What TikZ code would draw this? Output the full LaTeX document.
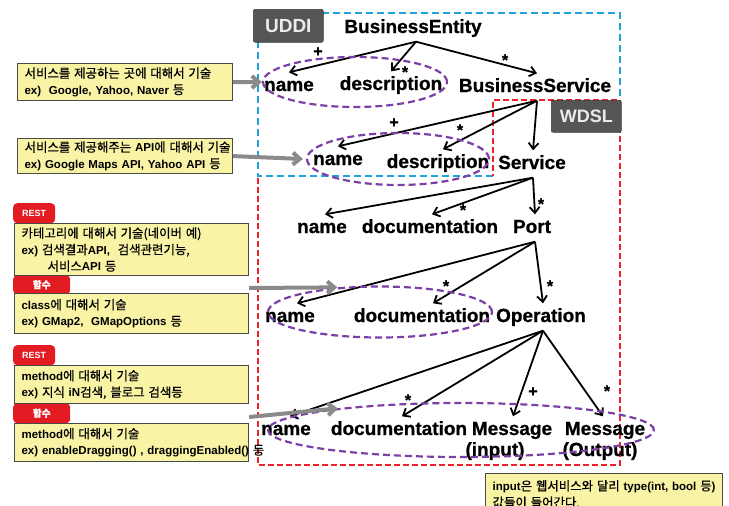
\documentclass[tikz,border=0pt]{standalone}
\usepackage{fontspec}
\setmainfont{Liberation Sans}
\newfontfamily\krfont[Scale=1.08,FakeBold=0.6]{Noto Sans CJK KR}
\newfontfamily\heavy[FakeBold=0.8]{Liberation Sans Bold}
\usetikzlibrary{arrows.meta,shapes.geometric}
\newcommand\K[1]{{\krfont\mdseries #1}}
\definecolor{uddiblue}{HTML}{1FA3DC}
\definecolor{wdslred}{HTML}{F0202A}
\definecolor{ellpurple}{HTML}{7B3FA6}
\definecolor{noteyellow}{HTML}{F9F3A6}
\definecolor{tagred}{HTML}{E31B23}
\definecolor{labgray}{HTML}{555555}
\definecolor{arrgray}{HTML}{8A8A8A}
\definecolor{noteborder}{HTML}{4A4A4A}
\tikzset{
  item/.style={font=\fontsize{19}{22}\selectfont\heavy, text height=14pt, text depth=4pt, inner xsep=1pt, inner ysep=4.5pt},
  mult/.style={font=\fontsize{16}{18}\selectfont\heavy, inner sep=0pt},
  arr/.style={-{Straight Barb[length=6pt,width=10pt]}, line width=1.8pt, black},
  garr/.style={-{Straight Barb[length=7pt,width=12pt]}, line width=4pt, arrgray},
  ell/.style={ellipse, draw=ellpurple, line width=2.2pt, dash pattern=on 7pt off 4pt, inner sep=0pt},
  uddiframe/.style={draw=uddiblue, line width=2.5pt, dash pattern=on 7pt off 4pt},
  wdslframe/.style={draw=wdslred, line width=2.8pt, dash pattern=on 6pt off 3pt},
  notebox/.style={draw=noteborder, fill=noteyellow, line width=1.2pt, anchor=north west, inner xsep=7pt, inner ysep=0pt, align=left, font=\fontsize{11.5}{16.5}\selectfont\bfseries},
  tagbox/.style={fill=tagred, rounded corners=4pt, text=white, font=\fontsize{9}{10}\selectfont\bfseries, anchor=north west, inner sep=0pt},
  labbox/.style={fill=labgray, draw=labgray!70!black, line width=0.6pt, rounded corners=2pt, text=white!92!black, anchor=north west, inner sep=0pt}
}
\begin{document}
\begin{tikzpicture}[x=1pt,y=-1pt]
\useasboundingbox (0,0) rectangle (729,506);
\clip (0,0) rectangle (729,506);

% frames
\draw[uddiframe] (493,176) -- (258,176) -- (258,13) -- (620,13) -- (620,100);
\draw[wdslframe] (258,178) -- (258,465) -- (620,465) -- (620,100) -- (493,100) -- (493,176);

% frame labels
\node[labbox, minimum width=70pt, minimum height=33pt, font=\fontsize{19}{20}\selectfont\bfseries] (uddi) at (253,9) {UDDI};
\node[labbox, minimum width=70pt, minimum height=32pt, font=\fontsize{18}{20}\selectfont\bfseries] (wdsl) at (551,100) {WDSL};

% items
\node[item] (be) at (413,28) {BusinessEntity};
\node[item] (n1) at (289,86) {name};
\node[item] (d1) at (391,85) {description};
\node[item] (bs) at (535,87) {BusinessService};
\node[item] (n2) at (338,160) {name};
\node[item] (d2) at (438,163) {description};
\node[item] (sv) at (532,164) {Service};
\node[item] (n3) at (322,228) {name};
\node[item] (d3) at (430,228) {documentation};
\node[item] (pt) at (532,228) {Port};
\node[item] (n4) at (290,317) {name};
\node[item] (d4) at (422,317) {documentation};
\node[item] (op) at (541,317) {Operation};
\node[item] (n5) at (286,430) {name};
\node[item] (d5) at (399,430) {documentation};
\node[item] (mi) at (512,430) {Message};
\node[item] (mo) at (605,430) {Message};
\node[item] (mi2) at (495,451) {(input)};
\node[item] (mo2) at (600,451) {(Output)};

% arrows
\draw[arr] ([xshift=3pt]be.south) -- (n1.north);
\draw[arr] ([xshift=3pt]be.south) -- (d1.north);
\draw[arr] ([xshift=3pt]be.south) -- ([xshift=2pt]bs.north);
\draw[arr] ([xshift=2pt]bs.south) -- (n2.north);
\draw[arr] ([xshift=2pt]bs.south) -- ([xshift=5pt]d2.north);
\draw[arr] ([xshift=2pt]bs.south) -- ([xshift=1pt]sv.north);
\draw[arr] ([xshift=1pt]sv.south) -- ([xshift=3pt]n3.north);
\draw[arr] ([xshift=1pt]sv.south) -- ([xshift=2pt]d3.north);
\draw[arr] ([xshift=1pt]sv.south) -- ([xshift=3pt]pt.north);
\draw[arr] ([xshift=3pt]pt.south) -- ([xshift=7pt]n4.north);
\draw[arr] ([xshift=3pt]pt.south) -- ([xshift=11pt]d4.north);
\draw[arr] ([xshift=3pt]pt.south) -- ([xshift=2pt]op.north);
\draw[arr] ([xshift=2pt]op.south) -- ([xshift=4pt]n5.north);
\draw[arr] ([xshift=2pt]op.south) -- ([xshift=3pt]d5.north);
\draw[arr] ([xshift=2pt]op.south) -- ([xshift=1pt]mi.north);
\draw[arr] ([xshift=2pt]op.south) -- ([xshift=-2pt]mo.north);

% multiplicities
\node[mult] (m1) at (318,52) {+};
\node[mult] (m2) at (405,72) {*};
\node[mult] (m3) at (505,60) {*};
\node[mult] (m4) at (394,123) {+};
\node[mult] (m5) at (460,130) {*};
\node[mult] (m6) at (463,210) {*};
\node[mult] (m7) at (541,204) {*};
\node[mult] (m8) at (446,286) {*};
\node[mult] (m9) at (550,286) {*};
\node[mult] (m10) at (408,400) {*};
\node[mult] (m11) at (533,392) {+};
\node[mult] (m12) at (607,391) {*};

% ellipses
\node[ell, minimum width=184pt, minimum height=50pt] (e1) at (355,82) {};
\node[ell, minimum width=182pt, minimum height=52pt] (e2) at (398,159) {};
\node[ell, minimum width=224pt, minimum height=51pt] (e3) at (380,312) {};
\node[ell, minimum width=386pt, minimum height=54pt] (e4) at (461,430) {};

% tags
\node[tagbox, minimum width=42pt, minimum height=20pt] (t1) at (13,203) {REST};
\node[tagbox, minimum width=57pt, minimum height=19pt] (t2) at (13,275) {\krfont 함수};
\node[tagbox, minimum width=42pt, minimum height=20pt] (t3) at (13,345) {REST};
\node[tagbox, minimum width=57pt, minimum height=20pt] (t4) at (13,403) {\krfont 함수};

% note boxes
\node[notebox, minimum width=215pt, minimum height=37pt, text width=201pt] (b1) at (17,63)
  {\mbox{\K{서비스를 제공하는 곳에 대해서 기술}}\\ \mbox{ex)\ \ Google, Yahoo, Naver \K{등}}};
\node[notebox, minimum width=215pt, minimum height=35pt, text width=201pt] (b2) at (17,138)
  {\mbox{\K{서비스를 제공해주는 }API\K{에 대해서 기술}}\\ \mbox{ex) Google Maps API, Yahoo API \K{등}}};
\node[notebox, minimum width=234pt, minimum height=52pt, text width=220pt] (b3) at (14,223)
  {\mbox{\K{카테고리에 대해서 기술(네이버 예)}}\\ \mbox{ex) \K{검색결과}API,\ \ \K{검색관련기능,}}\\ \hspace*{26pt}\mbox{\K{서비스}API \K{등}}};
\node[notebox, minimum width=234pt, minimum height=40pt, text width=220pt] (b4) at (14,293)
  {\mbox{class\K{에 대해서 기술}}\\ \mbox{ex) GMap2,\ \ GMapOptions \K{등}}};
\node[notebox, minimum width=234pt, minimum height=38pt, text width=220pt] (b5) at (14,365)
  {\mbox{method\K{에 대해서 기술}}\\ \mbox{ex) \K{지식 }iN\K{검색, 블로그 검색등}}};
\node[notebox, minimum width=234pt, minimum height=38pt, text width=220pt] (b6) at (14,423)
  {\mbox{method\K{에 대해서 기술}}\\ \mbox{ex) enableDragging() , draggingEnabled() \K{등}}};
\node[notebox, minimum width=237pt, minimum height=41pt, text width=223pt] (b7) at (485,473)
  {\mbox{input\K{은 웹서비스와 달리 }type(int, bool \K{등})}\\ \mbox{\K{값들이 들어간다.}}};

% gray pointers
\draw[garr] (b1.east) -- (e1.west);
\draw[garr] (b2.east) -- ([xshift=-3pt]e2.west);
\draw[garr] ([yshift=5pt]b4.north east) -- (e3.150);
\draw[garr] ([yshift=6pt]b6.north east) -- (e4.170);
\end{tikzpicture}
\end{document}
